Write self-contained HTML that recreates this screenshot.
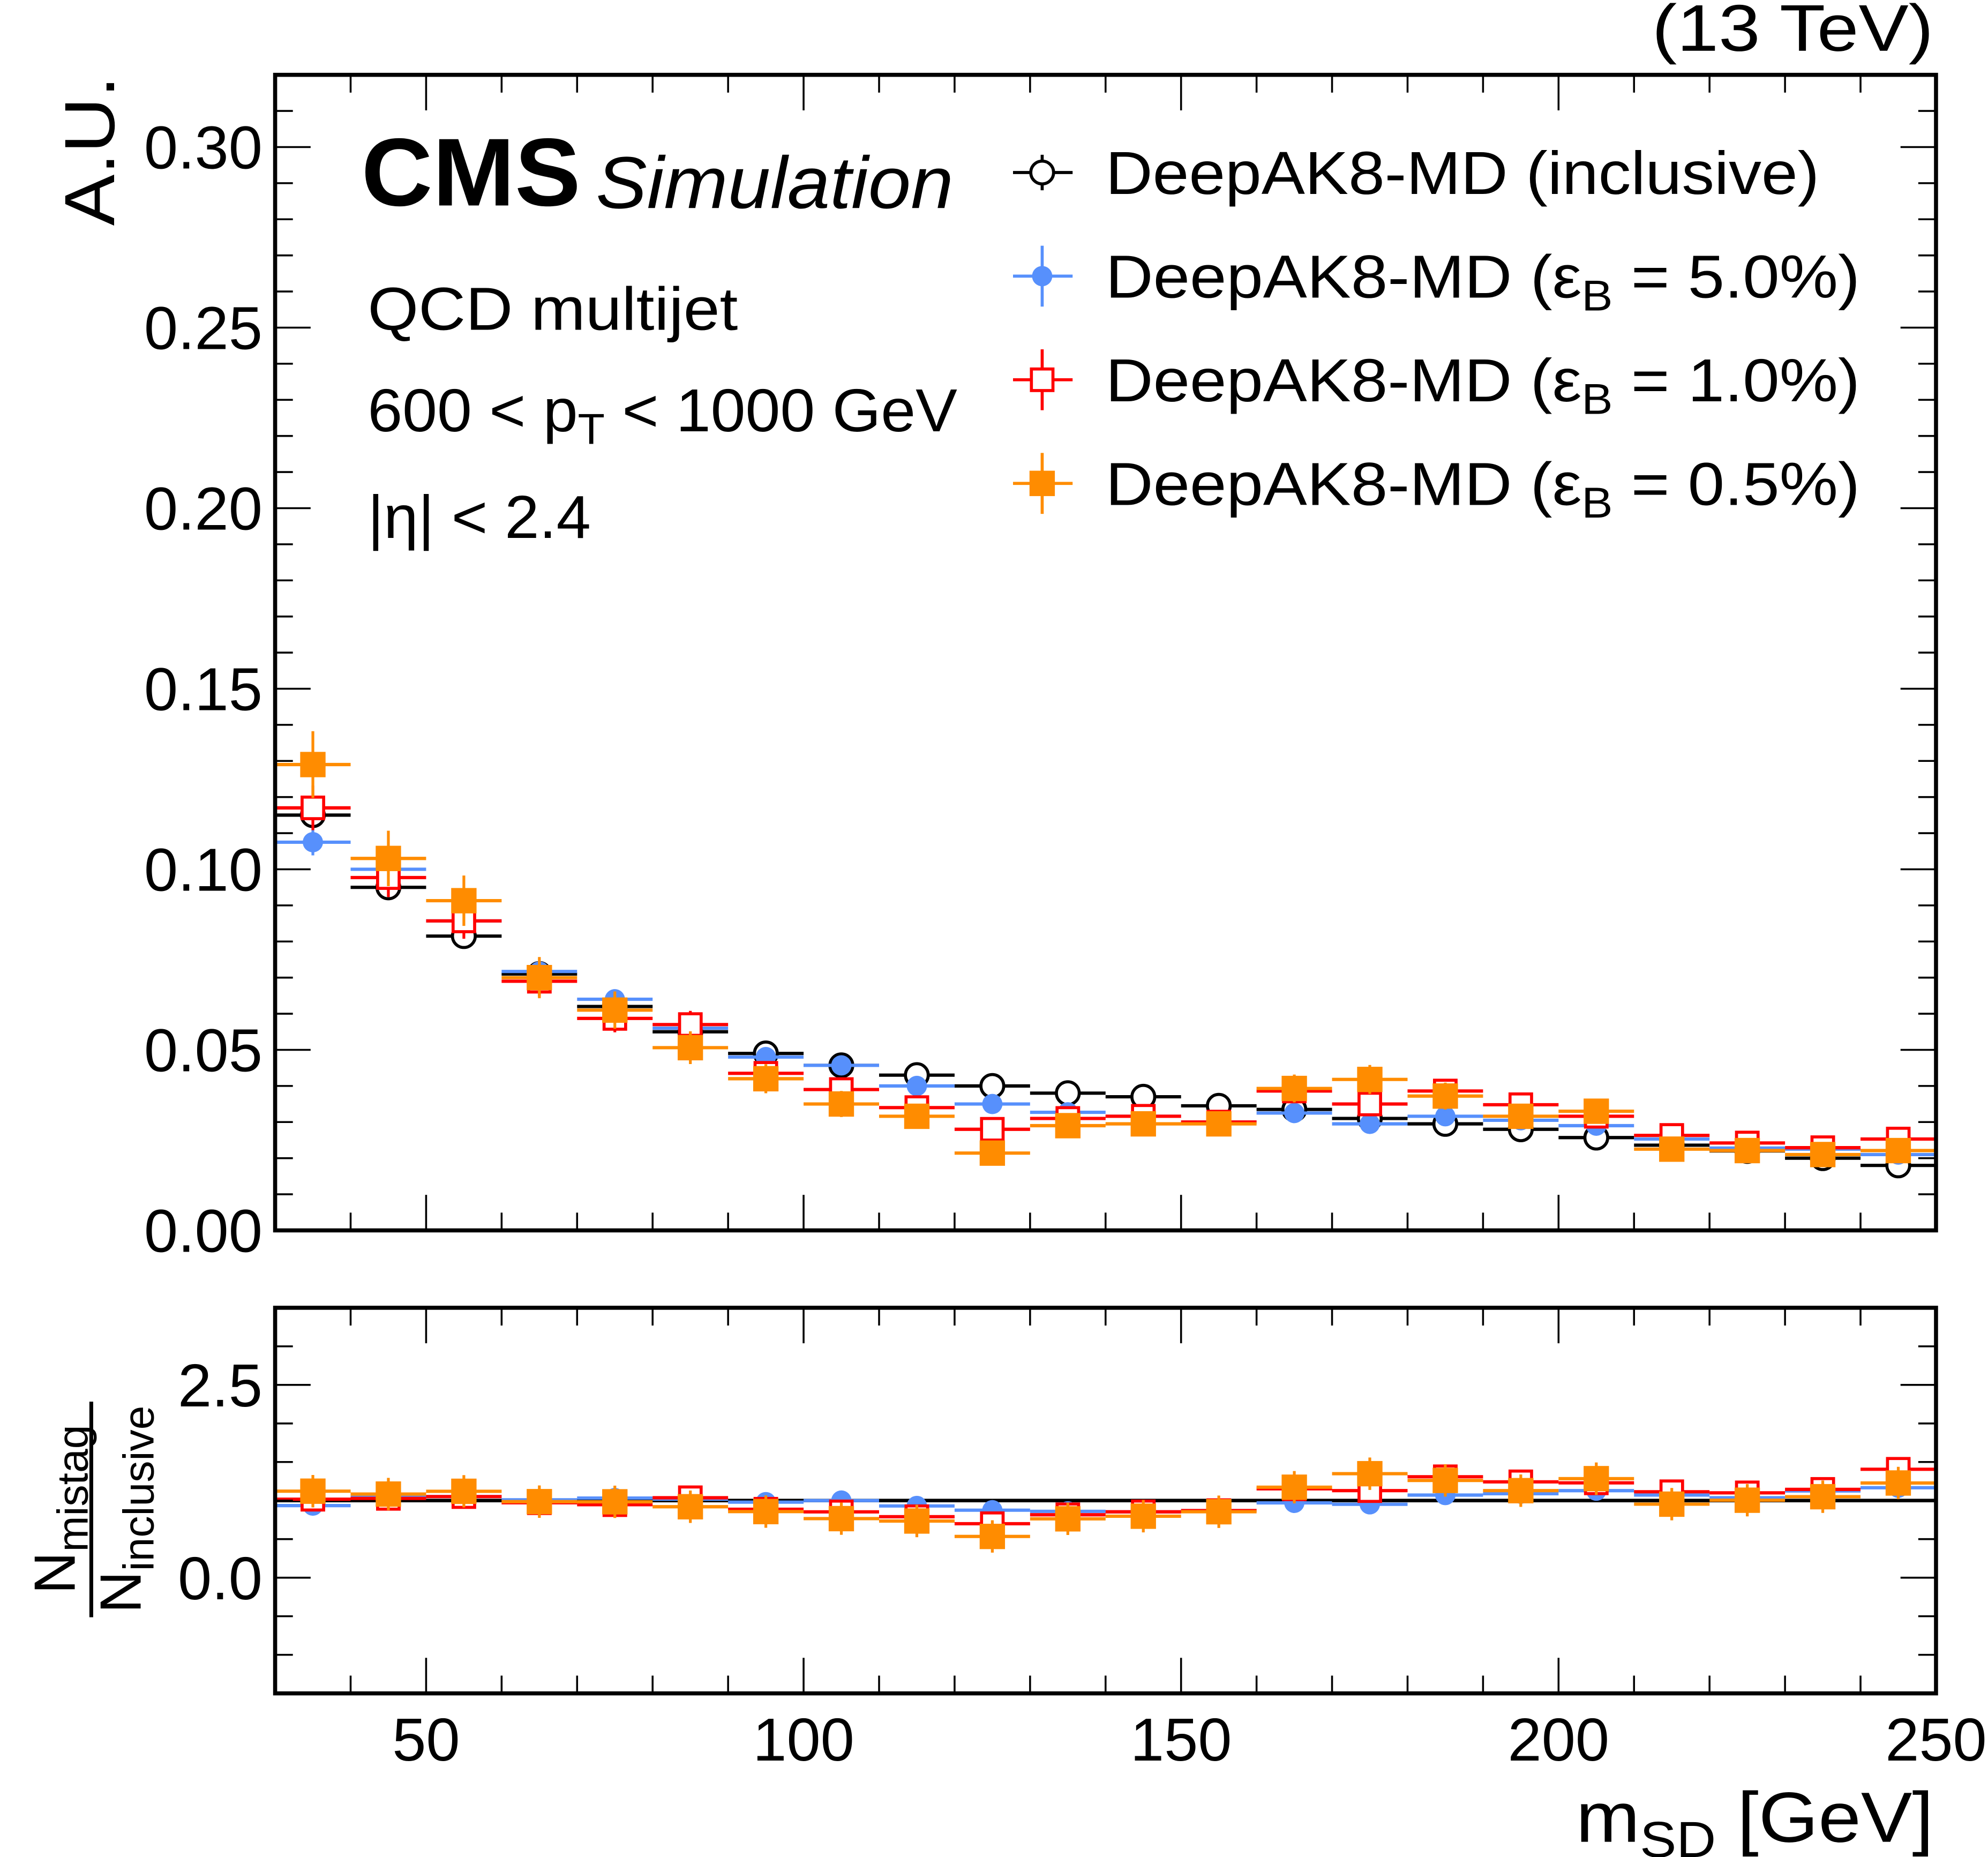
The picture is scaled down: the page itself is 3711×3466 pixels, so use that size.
<!DOCTYPE html>
<html><head><meta charset="utf-8"><style>
html,body{margin:0;padding:0;background:#fff}
svg{display:block}
text{font-family:"Liberation Sans",Arial,sans-serif;fill:#000}
</style></head><body>
<svg id="chart" width="3711" height="3466" viewBox="0 0 1568 1464" preserveAspectRatio="none" xmlns="http://www.w3.org/2000/svg">
<rect x="0" y="0" width="1568" height="1464" fill="#fff"/>
<g id="marks"></g>
<g id="axes"></g>
<text x="1303" y="40" font-size="52" textLength="222" lengthAdjust="spacingAndGlyphs">(13 TeV)</text>
<text x="285" y="162" font-size="76" font-weight="bold" textLength="173" lengthAdjust="spacingAndGlyphs">CMS</text>
<text x="470" y="164" font-size="58" font-style="italic" textLength="282" lengthAdjust="spacingAndGlyphs">Simulation</text>
<text x="290" y="260" font-size="48" textLength="292" lengthAdjust="spacingAndGlyphs">QCD multijet</text>
<text x="290" y="340" font-size="48" textLength="465" lengthAdjust="spacingAndGlyphs">600 &lt; p<tspan font-size="34" dy="10">T</tspan><tspan dy="-10"> &lt; 1000 GeV</tspan></text>
<text x="290" y="424" font-size="48" textLength="176" lengthAdjust="spacingAndGlyphs">|η| &lt; 2.4</text>
<g id="legend"></g>
<text transform="translate(90,178) rotate(-90)" font-size="56" textLength="118" lengthAdjust="spacingAndGlyphs">A.U.</text>
<g transform="translate(67,1190) rotate(-90)">
<text x="0" y="-8" text-anchor="middle" font-size="46">N<tspan font-size="34" dy="10">mistag</tspan></text>
<line x1="-85" y1="5" x2="85" y2="5" stroke="#000" stroke-width="3"/>
<text x="0" y="44" text-anchor="middle" font-size="46">N<tspan font-size="34" dy="10">inclusive</tspan></text>
</g>
<text x="1243" y="1452" font-size="56" textLength="282" lengthAdjust="spacingAndGlyphs">m<tspan font-size="40" dy="12">SD</tspan><tspan dy="-12"> [GeV]</tspan></text>
</svg>
<script>
const binEdges=[30,40,50,60,70,80,90,100,110,120,130,140,150,160,170,180,190,200,210,220,230,240,250];
const inclusive=[0.115,0.095,0.0815,0.071,0.062,0.055,0.049,0.0457,0.043,0.040,0.038,0.037,0.0345,0.0335,0.031,0.0295,0.028,0.0257,0.0236,0.022,0.020,0.018];
const eff5=[0.1075,0.100,0.0857,0.0717,0.064,0.056,0.048,0.0457,0.040,0.035,0.0327,0.0316,0.030,0.0325,0.0295,0.0316,0.0305,0.029,0.0253,0.0228,0.0225,0.021];
const eff1=[0.117,0.0977,0.0857,0.069,0.0587,0.057,0.0435,0.039,0.034,0.028,0.031,0.0316,0.030,0.0386,0.035,0.0386,0.0348,0.0316,0.0263,0.0242,0.0229,0.0253];
const eff05=[0.129,0.103,0.0913,0.070,0.061,0.0506,0.042,0.035,0.0316,0.0214,0.029,0.0295,0.0295,0.0393,0.0418,0.0372,0.0316,0.033,0.0225,0.0221,0.021,0.0221];
const mainTicks=["0.00","0.05","0.10","0.15","0.20","0.25","0.30"];
const ratioTicks=["0.0","2.5"];
const xTicks=["50","100","150","200","250"];

const NS="http://www.w3.org/2000/svg";
const L=217,R=1527,MT=59,MB=970,RT=1031,RB=1335;
const xs=v=>L+(v-30)*(R-L)/220;
const ym=v=>MB-v*(MB-MT)/0.32;
const yr=v=>RB-(v+1.5)*(RB-RT)/5;
function mk(tag,attrs,parent){const e=document.createElementNS(NS,tag);for(const k in attrs)e.setAttribute(k,attrs[k]);parent.appendChild(e);return e;}
const marks=document.getElementById('marks'),axes=document.getElementById('axes'),leg=document.getElementById('legend');
const series=[
 {name:'inclusive',vals:inclusive,col:'#000',m:'ocircle',err:0.0},
 {name:'eff-5',vals:eff5,col:'#5790fc',m:'fcircle',err:0.001},
 {name:'eff-1',vals:eff1,col:'#f00',m:'osquare',err:0.002},
 {name:'eff-05',vals:eff05,col:'#ff8c00',m:'fsquare',err:0.003}];
function marker(g,type,cx,cy,col){
 if(type==='ocircle')return mk('circle',{cx:cx,cy:cy,r:9,fill:'#fff',stroke:col,'stroke-width':2.4},g);
 if(type==='fcircle')return mk('circle',{cx:cx,cy:cy,r:8,fill:col},g);
 if(type==='osquare')return mk('rect',{x:cx-8.5,y:cy-8.5,width:17,height:17,fill:'#fff',stroke:col,'stroke-width':2.4},g);
 return mk('rect',{x:cx-10,y:cy-10,width:20,height:20,fill:col},g);
}
let ref=mk('line',{x1:L,x2:R,y1:yr(1),y2:yr(1),stroke:'#000','stroke-width':2.8},marks);


series.forEach(s=>{
 const g=mk('g',{},marks);
 
 
 const gr=mk('g',{},marks);
 
 
 s.vals.forEach((v,i)=>{
  const x0=xs(binEdges[i]),x1=xs(binEdges[i+1]),cx=(x0+x1)/2,cy=ym(v);
  mk('line',{x1:x0,x2:x1,y1:cy,y2:cy,stroke:s.col,'stroke-width':2.6},g);
  const e=s.err*v/0.05+0.0015;
  mk('line',{x1:cx,x2:cx,y1:ym(v+e),y2:ym(v-e),stroke:s.col,'stroke-width':2.2},g);
  const p=marker(g,s.m,cx,cy,s.col);
  
  
  if(s.name!=='inclusive'){
   const r=v/inclusive[i],ry=yr(r),re=s.err*60+0.03;
   mk('line',{x1:x0,x2:x1,y1:ry,y2:ry,stroke:s.col,'stroke-width':2.6},gr);
   mk('line',{x1:cx,x2:cx,y1:yr(r+re),y2:yr(r-re),stroke:s.col,'stroke-width':2.2},gr);
   const q=marker(gr,s.m,cx,ry,s.col);
   
   
  }
 });
});
[[MT,MB],[RT,RB]].forEach((f,k)=>{
 const r=mk('rect',{x:L,y:f[0],width:R-L,height:f[1]-f[0],fill:'none',stroke:'#000','stroke-width':3.2},axes);
 
 
 for(let g=30;g<=250;g+=10){
  const x=xs(g),maj=g%50===0,len=maj?28:14;
  mk('line',{x1:x,x2:x,y1:f[1],y2:f[1]-len,stroke:'#000','stroke-width':1.5},axes);
  mk('line',{x1:x,x2:x,y1:f[0],y2:f[0]+len,stroke:'#000','stroke-width':1.5},axes);
 }
});
for(let j=0;j<=32;j++){
 const y=ym(j*0.01),len=j%5===0?28:14;
 mk('line',{x1:L,x2:L+len,y1:y,y2:y,stroke:'#000','stroke-width':1.5},axes);
 mk('line',{x1:R,x2:R-len,y1:y,y2:y,stroke:'#000','stroke-width':1.5},axes);
}
for(let v=-1.5;v<=3.5;v+=0.5){
 const y=yr(v),len=(Math.abs(v-2.5)<1e-6||Math.abs(v)<1e-6)?28:14;
 mk('line',{x1:L,x2:L+len,y1:y,y2:y,stroke:'#000','stroke-width':1.5},axes);
 mk('line',{x1:R,x2:R-len,y1:y,y2:y,stroke:'#000','stroke-width':1.5},axes);
}
mainTicks.forEach(t=>{
 const e=mk('text',{x:207,y:ym(parseFloat(t))+17,'text-anchor':'end','font-size':48},axes);e.textContent=t;
 
 
});
ratioTicks.forEach(t=>{
 const e=mk('text',{x:207,y:yr(parseFloat(t))+17,'text-anchor':'end','font-size':48},axes);e.textContent=t;
 
 
});
xTicks.forEach(t=>{
 const e=mk('text',{x:xs(parseFloat(t)),y:1388,'text-anchor':'middle','font-size':48},axes);e.textContent=t;
 
 
});
const legLabels=[['DeepAK8-MD (inclusive)',''],['DeepAK8-MD (ε','5.0%)'],['DeepAK8-MD (ε','1.0%)'],['DeepAK8-MD (ε','0.5%)']];
const legLens=[563,595,595,595];
series.forEach((s,i)=>{
 const y=136+i*81.7,g=mk('g',{},leg);
 
 
 mk('line',{x1:799,x2:846,y1:y,y2:y,stroke:s.col,'stroke-width':2.4},g);
 mk('line',{x1:822,x2:822,y1:y-(i?24:14),y2:y+(i?24:14),stroke:s.col,'stroke-width':2.4},g);
 marker(g,s.m,822,y,s.col);
 const t=mk('text',{x:872,y:y+17,'font-size':48,textLength:legLens[i],lengthAdjust:'spacingAndGlyphs'},g);
 if(i===0)t.textContent=legLabels[0][0];
 else{t.textContent=legLabels[i][0];const sb=mk('tspan',{'font-size':34,dy:10},t);sb.textContent='B';const r=mk('tspan',{dy:-10},t);r.textContent=' = '+legLabels[i][1];}
});
</script>
</body></html>
